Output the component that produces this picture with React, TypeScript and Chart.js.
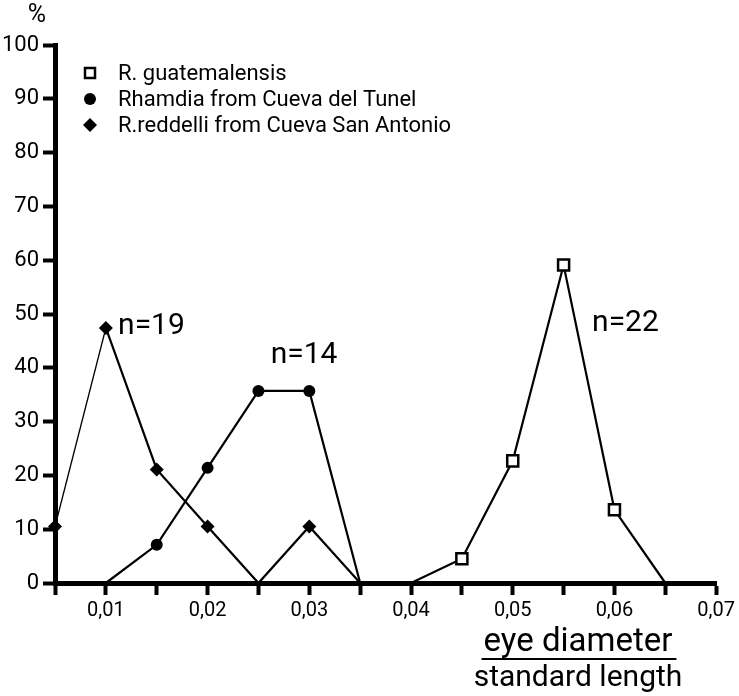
import React, { useEffect, useRef } from 'react';
import { Chart, registerables } from 'chart.js';

Chart.register(...registerables);

// ---- data ----
const seriesNames = [
  'R. guatemalensis',
  'Rhamdia from Cueva del Tunel',
  'R.reddelli from Cueva San Antonio',
];
const guatemalensisX = [0.04, 0.045, 0.05, 0.055, 0.06, 0.065];
const guatemalensisY = [0, 4.5, 22.7, 59.1, 13.6, 0];
const tunelX = [0.01, 0.015, 0.02, 0.025, 0.03, 0.035];
const tunelY = [0, 7.1, 21.4, 35.7, 35.7, 0];
const reddelliX = [0.005, 0.01, 0.015, 0.02, 0.025, 0.03, 0.035];
const reddelliY = [10.5, 47.4, 21.1, 10.5, 0, 10.5, 0];
const xTicks = [0.005, 0.01, 0.015, 0.02, 0.025, 0.03, 0.035, 0.04, 0.045, 0.05, 0.055, 0.06, 0.065, 0.07];
const yTicks = [0, 10, 20, 30, 40, 50, 60, 70, 80, 90, 100];
const sampleLabels = ['n=22', 'n=14', 'n=19'];
// left anchor of each sample-size label in data space (x, y)
const sampleLabelX = [0.0578, 0.0262, 0.0112];
const sampleLabelY = [48.3, 42.2, 47.6];
const yUnit = '%';
const xTitleTop = 'eye diameter';
const xTitleBottom = 'standard length';

const FAMILY = 'Roboto, "DejaVu Sans", sans-serif';

function pts(xs: number[], ys: number[]) {
  return xs.map((x, i) => ({ x, y: ys[i] }));
}

function drawMarker(ctx: CanvasRenderingContext2D, kind: string, x: number, y: number) {
  ctx.save();
  ctx.strokeStyle = '#000';
  ctx.fillStyle = '#000';
  if (kind === 'rect') {
    ctx.lineWidth = 2.5;
    ctx.fillStyle = '#fff';
    ctx.fillRect(x - 5, y - 5, 10, 10);
    ctx.strokeRect(x - 5, y - 5, 10, 10);
  } else if (kind === 'circle') {
    ctx.beginPath();
    ctx.arc(x, y, 6, 0, Math.PI * 2);
    ctx.fill();
  } else {
    ctx.beginPath();
    ctx.moveTo(x, y - 7);
    ctx.lineTo(x + 7, y);
    ctx.lineTo(x, y + 7);
    ctx.lineTo(x - 7, y);
    ctx.closePath();
    ctx.fill();
  }
  ctx.restore();
}

const markerKinds = ['rect', 'circle', 'rectRot'];

const overlay = {
  id: 'overlay',
  afterDraw(chart: any) {
    const ctx: CanvasRenderingContext2D = chart.ctx;
    const xs = chart.scales.x;
    const ys = chart.scales.y;
    ctx.save();
    ctx.fillStyle = '#000';
    ctx.strokeStyle = '#000';
    ctx.textBaseline = 'middle';

    // unit
    ctx.font = `25px ${FAMILY}`;
    ctx.textAlign = 'center';
    ctx.fillText(yUnit, 37, 16);

    // legend
    ctx.font = `22px ${FAMILY}`;
    ctx.textAlign = 'left';
    const rowY = [73, 99, 125];
    seriesNames.forEach((name, i) => {
      drawMarker(ctx, markerKinds[i], 90, rowY[i]);
      ctx.fillText(name, 118, rowY[i] + 1);
    });

    // sample sizes
    ctx.font = `30px ${FAMILY}`;
    ctx.textAlign = 'left';
    sampleLabels.forEach((t, i) => {
      ctx.fillText(t, xs.getPixelForValue(sampleLabelX[i]), ys.getPixelForValue(sampleLabelY[i]));
    });

    // x title (fraction)
    ctx.font = `33px ${FAMILY}`;
    ctx.textAlign = 'center';
    const cx = 578;
    ctx.fillText(xTitleTop, cx, 643);
    const w = ctx.measureText(xTitleTop).width;
    ctx.lineWidth = 2;
    ctx.beginPath();
    ctx.moveTo(cx - w / 2 - 2, 659);
    ctx.lineTo(cx + w / 2 + 4, 659);
    ctx.stroke();
    ctx.font = `30px ${FAMILY}`;
    ctx.fillText(xTitleBottom, cx, 678);
    ctx.restore();
  },
};

export default function App() {
  const ref = useRef<HTMLCanvasElement>(null);

  useEffect(() => {
    const canvas = ref.current!;
    const zeroHidden = (r: number) => (c: any) => (c.raw && c.raw.y === 0 ? 0 : r);
    const chart = new Chart(canvas, {
      type: 'line',
      data: {
        datasets: [
          {
            label: seriesNames[0],
            data: pts(guatemalensisX, guatemalensisY),
            borderColor: '#000',
            borderWidth: 2.2,
            pointStyle: 'rect',
            pointRadius: zeroHidden(7.8),
            pointBackgroundColor: '#fff',
            pointBorderColor: '#000',
            pointBorderWidth: 2.5,
            tension: 0,
            clip: false,
          },
          {
            label: seriesNames[1],
            data: pts(tunelX, tunelY),
            borderColor: '#000',
            borderWidth: 2.2,
            pointStyle: 'circle',
            pointRadius: zeroHidden(6),
            pointBackgroundColor: '#000',
            pointBorderColor: '#000',
            pointBorderWidth: 0,
            tension: 0,
            clip: false,
          },
          {
            label: seriesNames[2],
            data: pts(reddelliX, reddelliY),
            borderColor: '#000',
            borderWidth: 2.2,
            segment: { borderWidth: (s: any) => (s.p0DataIndex === 0 ? 1.3 : 2.2) },
            pointStyle: 'rectRot',
            pointRadius: zeroHidden(7),
            pointBackgroundColor: '#000',
            pointBorderColor: '#000',
            pointBorderWidth: 0,
            tension: 0,
            clip: false,
          },
        ] as any,
      },
      options: {
        responsive: false,
        animation: false,
        devicePixelRatio: 1,
        layout: { padding: { top: 45, right: 19, bottom: 0, left: 0 } },
        plugins: { legend: { display: false }, tooltip: { enabled: false } },
        scales: {
          x: {
            type: 'linear',
            min: 0.005,
            max: 0.07,
            afterBuildTicks: (s: any) => {
              s.ticks = xTicks.map((v) => ({ value: v }));
            },
            afterFit: (s: any) => {
              s.height = 113;
            },
            grid: { drawOnChartArea: false, drawTicks: true, tickLength: 12, tickWidth: 4, tickColor: '#000' },
            border: { display: true, width: 5, color: '#000' },
            ticks: {
              color: '#000',
              font: { family: FAMILY, size: 20 },
              padding: 4,
              maxRotation: 0,
              autoSkip: false,
              callback: (v: any) => {
                const k = Math.round(Number(v) * 1000);
                return k % 10 === 0 ? Number(v).toFixed(2).replace('.', ',') : '';
              },
            },
          },
          y: {
            type: 'linear',
            min: 0,
            max: 100,
            afterBuildTicks: (s: any) => {
              s.ticks = yTicks.map((v) => ({ value: v }));
            },
            afterFit: (s: any) => {
              s.width = 55;
            },
            grid: { drawOnChartArea: false, drawTicks: true, tickLength: 12, tickWidth: 4, tickColor: '#000' },
            border: { display: true, width: 5, color: '#000' },
            ticks: {
              color: '#000',
              font: { family: FAMILY, size: 22 },
              padding: 4,
              autoSkip: false,
            },
          },
        },
      } as any,
      plugins: [overlay],
    });
    return () => chart.destroy();
  }, []);

  return (
    <div style={{ position: 'absolute', left: 0, top: 0, width: 739, height: 696, background: '#fff' }}>
      <canvas ref={ref} width={739} height={696} style={{ width: 739, height: 696, display: 'block' }} />
    </div>
  );
}
